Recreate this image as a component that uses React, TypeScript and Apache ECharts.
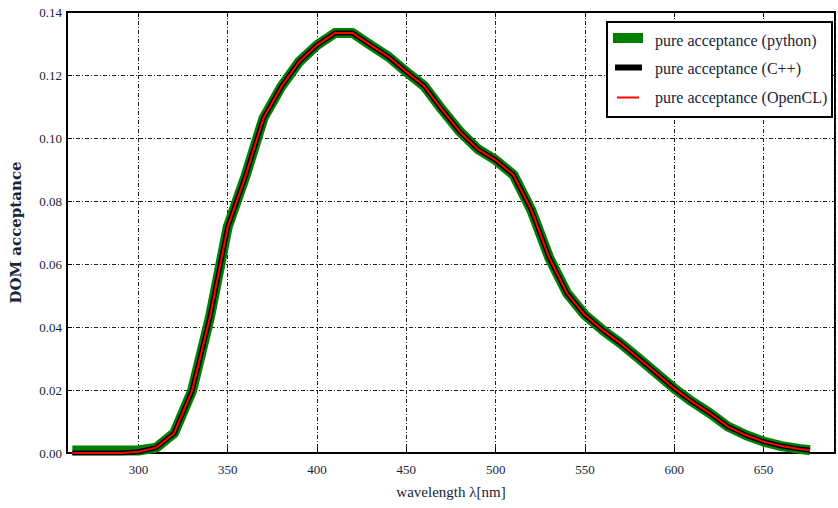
import React, { useEffect, useRef } from "react";
import * as echarts from "echarts";

const wavelengths = [263, 270, 280, 290, 300, 310, 320, 330, 340, 350, 360, 370, 380, 390, 400, 410, 420, 430, 440, 450, 460, 470, 480, 490, 500, 510, 520, 530, 540, 550, 560, 570, 580, 590, 600, 610, 620, 630, 640, 650, 660, 670, 676];
const pythonValues = [0.0008, 0.0008, 0.0008, 0.0008, 0.0008, 0.0017, 0.0063, 0.0197, 0.043, 0.0718, 0.088, 0.1063, 0.1163, 0.1242, 0.1295, 0.1333, 0.1333, 0.1295, 0.1258, 0.121, 0.1165, 0.109, 0.102, 0.0965, 0.093, 0.0883, 0.0771, 0.062, 0.0507, 0.0438, 0.039, 0.0348, 0.0301, 0.0253, 0.0205, 0.0163, 0.0126, 0.0084, 0.0057, 0.0036, 0.0022, 0.0013, 0.0009];
const cppValues = [0, 0, 0, 0, 0.0004, 0.0017, 0.0063, 0.0197, 0.043, 0.0718, 0.088, 0.1063, 0.1163, 0.1242, 0.1295, 0.1333, 0.1333, 0.1295, 0.1258, 0.121, 0.1165, 0.109, 0.102, 0.0965, 0.093, 0.0883, 0.0771, 0.062, 0.0507, 0.0438, 0.039, 0.0348, 0.0301, 0.0253, 0.0205, 0.0163, 0.0126, 0.0084, 0.0057, 0.0036, 0.0022, 0.0013, 0.0009];
const openclValues = [0, 0, 0, 0, 0.0004, 0.0017, 0.0063, 0.0197, 0.043, 0.0718, 0.088, 0.1063, 0.1163, 0.1242, 0.1295, 0.1333, 0.1333, 0.1295, 0.1258, 0.121, 0.1165, 0.109, 0.102, 0.0965, 0.093, 0.0883, 0.0771, 0.062, 0.0507, 0.0438, 0.039, 0.0348, 0.0301, 0.0253, 0.0205, 0.0163, 0.0126, 0.0084, 0.0057, 0.0036, 0.0022, 0.0013, 0.0009];
const seriesNames = ["pure acceptance (python)", "pure acceptance (C++)", "pure acceptance (OpenCL)"];
const xTitle = "wavelength λ[nm]";
const yTitle = "DOM acceptance";

const SERIF = "Liberation Serif";
const TEXT = "#18243a";

export default function App() {
  const ref = useRef<HTMLDivElement>(null);
  useEffect(() => {
    if (!ref.current) return;
    const chart = echarts.init(ref.current, null, { renderer: "svg" });
    const pair = (vals: number[]) => wavelengths.map((w, i) => [w, vals[i]]);
    const grid = { type: [4, 2, 1, 2], color: "#222", width: 1 };
    chart.setOption({
      animation: false,
      backgroundColor: "#fff",
      grid: { left: 62, right: -3, top: 12, bottom: 55, show: true, borderColor: "#000", borderWidth: 2, backgroundColor: "transparent" },
      xAxis: [
        {
          type: "value",
          min: 260,
          max: 690,
          minInterval: 50,
          maxInterval: 50,
          position: "bottom",
          name: xTitle,
          nameLocation: "middle",
          nameGap: 31,
          nameTextStyle: { fontFamily: SERIF, fontSize: 15, color: TEXT },
          axisLine: { show: true, lineStyle: { color: "#000", width: 2 } },
          axisTick: { show: true, inside: true, length: 5, lineStyle: { color: "#000" } },
          axisLabel: {
            fontFamily: SERIF,
            fontSize: 13,
            color: TEXT,
            margin: 10,
            formatter: (v: number) => (v % 50 === 0 && v < 690 ? String(v) : ""),
          },
          splitLine: { show: true, lineStyle: grid },
        },
        {
          type: "value",
          min: 260,
          max: 690,
          minInterval: 50,
          maxInterval: 50,
          position: "top",
          axisLine: { show: true, lineStyle: { color: "#000", width: 2 } },
          axisTick: { show: true, inside: true, length: 5, lineStyle: { color: "#000" } },
          axisLabel: { show: false },
          splitLine: { show: false },
        },
      ],
      yAxis: {
        type: "value",
        min: 0,
        max: 0.14,
        interval: 0.02,
        name: yTitle,
        nameLocation: "middle",
        nameGap: 44,
        nameRotate: 90,
        nameTextStyle: { fontFamily: "DejaVu Serif", fontWeight: "bold", fontSize: 15, color: TEXT },
        axisLine: { show: true, lineStyle: { color: "#000", width: 2 } },
        axisTick: { show: true, inside: true, length: 5, lineStyle: { color: "#000" } },
        axisLabel: { fontFamily: SERIF, fontSize: 13, color: TEXT, margin: 5, formatter: (v: number) => v.toFixed(2) },
        splitLine: { show: true, lineStyle: grid },
      },
      series: [
        { name: seriesNames[0], type: "line", data: pair(pythonValues), showSymbol: false, lineStyle: { color: "#008000", width: 10, cap: "butt", join: "round" }, z: 2 },
        { name: seriesNames[1], type: "line", data: pair(cppValues), showSymbol: false, lineStyle: { color: "#000", width: 5, cap: "butt" }, z: 3 },
        { name: seriesNames[2], type: "line", data: pair(openclValues), showSymbol: false, lineStyle: { color: "#ff0000", width: 2, cap: "butt" }, z: 4 },
      ],
      graphic: [
        { type: "rect", shape: { x: 607, y: 22, width: 225, height: 95 }, style: { fill: "#fff", stroke: "#000", lineWidth: 2 }, z: 100 },
        { type: "rect", shape: { x: 613, y: 33, width: 30, height: 10 }, style: { fill: "#008000" }, z: 101 },
        { type: "rect", shape: { x: 615, y: 64.5, width: 27, height: 6 }, style: { fill: "#000" }, z: 101 },
        { type: "line", shape: { x1: 617, y1: 97.5, x2: 639, y2: 97.5 }, style: { stroke: "#ff0000", lineWidth: 2 }, z: 101 },
        { type: "text", x: 655, y: 40, style: { text: seriesNames[0], font: `16px '${SERIF}'`, fill: TEXT, verticalAlign: "middle" }, z: 101 },
        { type: "text", x: 655, y: 68.5, style: { text: seriesNames[1], font: `16px '${SERIF}'`, fill: TEXT, verticalAlign: "middle" }, z: 101 },
        { type: "text", x: 655, y: 97.7, style: { text: seriesNames[2], font: `16px '${SERIF}'`, fill: TEXT, verticalAlign: "middle" }, z: 101 },
      ],
    });
    return () => chart.dispose();
  }, []);
  return <div ref={ref} style={{ position: "fixed", left: 0, top: 0, width: 838, height: 508 }} />;
}
